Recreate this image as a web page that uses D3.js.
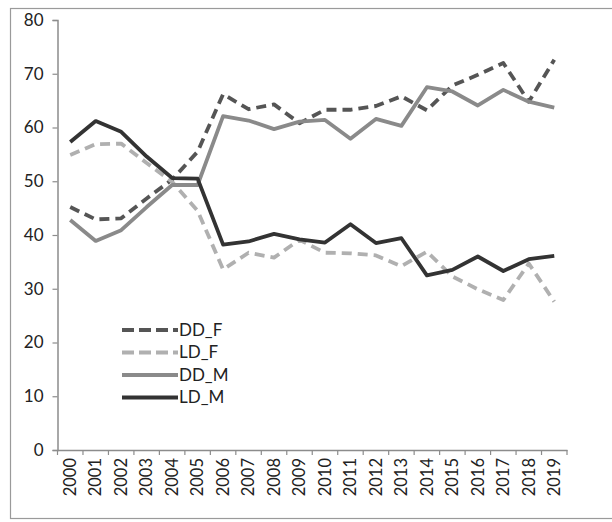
<!DOCTYPE html>
<html>
<head>
<meta charset="utf-8">
<script src="https://cdn.jsdelivr.net/npm/d3@7"></script>
<style>
  body { margin: 0; background: #fff; }
  svg { display: block; }
  text { font-family: Lato, "Open Sans", "Noto Sans", sans-serif; }
</style>
</head>
<body>
<svg id="chart" width="612" height="522"></svg>
<script>
const years = ["2000","2001","2002","2003","2004","2005","2006","2007","2008","2009",
               "2010","2011","2012","2013","2014","2015","2016","2017","2018","2019"];
const DD_F = [45.2, 42.9, 43.1, 46.8, 50.3, 55.5, 66.2, 63.4, 64.3, 60.8, 63.3, 63.3, 64.0, 65.8, 63.2, 67.8, 69.8, 72.0, 64.8, 72.6];
const LD_F = [54.9, 56.9, 57.0, 53.4, 49.9, 44.5, 33.6, 36.7, 35.8, 39.1, 36.7, 36.6, 36.2, 34.2, 36.9, 32.3, 29.9, 27.9, 34.7, 27.6];
const DD_M = [42.8, 38.9, 40.9, 45.2, 49.3, 49.3, 62.1, 61.3, 59.7, 61.1, 61.4, 57.9, 61.6, 60.3, 67.5, 66.7, 64.1, 67.0, 64.8, 63.7];
const LD_M = [57.3, 61.2, 59.2, 54.6, 50.6, 50.5, 38.2, 38.8, 40.2, 39.2, 38.6, 42.0, 38.5, 39.4, 32.5, 33.5, 36.0, 33.3, 35.5, 36.1];
const yTicks = [0, 10, 20, 30, 40, 50, 60, 70, 80];

const seriesNames = ["DD_F", "LD_F", "DD_M", "LD_M"];
const seriesData = [DD_F, LD_F, DD_M, LD_M];
const seriesColor = ["#555555", "#b0b0b0", "#8a8a8a", "#333333"];
const seriesDash = ["10,6", "10,6", null, null];

const svg = d3.select("#chart");

// outer frame
svg.append("rect")
  .attr("x", 10.5).attr("y", 8.5)
  .attr("width", 610).attr("height", 510)
  .attr("fill", "none").attr("stroke", "#9a9a9a").attr("stroke-width", 1.2);

const mLeft = 57.5, mRight = 567, mTop = 20, mBottom = 450;

const x = d3.scaleBand().domain(years).range([mLeft, mRight]);
const y = d3.scaleLinear().domain([0, 80]).range([mBottom, mTop]);

const axisColor = "#8c8c8c";

// y axis
const yAxis = svg.append("g")
  .attr("transform", `translate(${mLeft},0)`)
  .call(d3.axisLeft(y).tickValues(yTicks).tickSize(5).tickPadding(9));
yAxis.select(".domain").attr("stroke", axisColor).attr("stroke-width", 1.5);
yAxis.selectAll(".tick line").attr("stroke", axisColor).attr("stroke-width", 1.2);
yAxis.selectAll(".tick text").attr("font-size", 17).attr("fill", "#222");

// x axis
const xAxis = svg.append("g")
  .attr("transform", `translate(0,${mBottom})`)
  .call(d3.axisBottom(x).tickSize(0));
xAxis.select(".domain").attr("stroke", axisColor).attr("stroke-width", 1.5);
xAxis.selectAll(".tick line").remove();
const bounds = years.map((d) => x(d)).concat([mRight]);
xAxis.selectAll("line.bt").data(bounds).enter().append("line")
  .attr("class", "bt")
  .attr("x1", d => d).attr("x2", d => d)
  .attr("y1", 0).attr("y2", 5)
  .attr("stroke", axisColor).attr("stroke-width", 1.2);
xAxis.selectAll(".tick text")
  .attr("font-size", 16.5).attr("fill", "#222")
  .attr("transform", "rotate(-90)")
  .attr("text-anchor", "end")
  .attr("dx", "-8").attr("dy", "0.35em")
  .attr("y", 0).attr("x", 0);

// lines
const line = d3.line()
  .x((d, i) => x(years[i]) + x.bandwidth() / 2)
  .y(d => y(d));

seriesData.forEach((data, k) => {
  svg.append("path")
    .datum(data)
    .attr("d", line)
    .attr("fill", "none")
    .attr("stroke", seriesColor[k])
    .attr("stroke-width", 3.8)
    .attr("stroke-linejoin", "round")
    .attr("stroke-dasharray", seriesDash[k]);
});

// legend
const legend = svg.append("g").attr("transform", "translate(122,330)");
seriesNames.forEach((name, k) => {
  const g = legend.append("g").attr("transform", `translate(0,${k * 22.5})`);
  g.append("line")
    .attr("x1", 0).attr("x2", 56)
    .attr("y1", 0).attr("y2", 0)
    .attr("stroke", seriesColor[k])
    .attr("stroke-width", 3.8)
    .attr("stroke-dasharray", seriesDash[k] ? "12,5" : null);
  g.append("text")
    .attr("x", 57).attr("y", 0).attr("dy", "0.35em")
    .attr("font-size", 17).attr("fill", "#222")
    .text(name);
});
</script>
</body>
</html>
